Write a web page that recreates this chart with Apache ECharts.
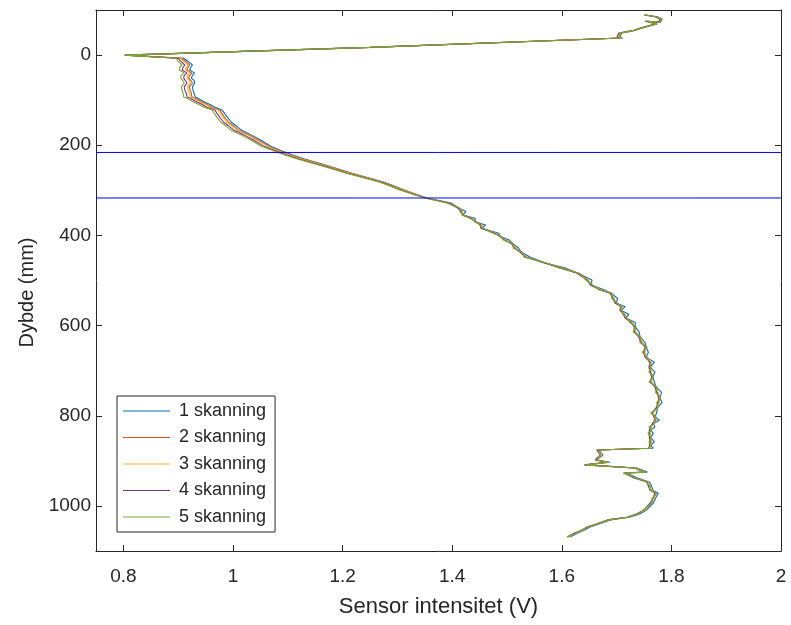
<!DOCTYPE html>
<html>
<head>
<meta charset="utf-8">
<script src="https://cdn.jsdelivr.net/npm/echarts@6/dist/echarts.min.js"></script>
<style>
html,body{margin:0;padding:0;background:#fff;}
#chart{width:791px;height:625px;}
</style>
</head>
<body>
<div id="chart"></div>
<script>
// Depth (mm), shared by all scans
var depth = [-89,-85,-80,-73,-75,-71,-69,-60,-55,-51,
-49,-40,-38,-34,-17,0,7,13,22,27,
33,40,45,51,56,62,70,78,85,93,
95,104,110,115,122,130,138,149,158,166,
177,189,202,211,222,231,240,251,262,272,
282,290,299,308,317,328,339,347,355,362,
370,377,384,395,402,410,419,428,438,448,
461,472,484,499,510,521,528,540,550,558,
566,575,583,593,603,614,626,637,648,659,
670,681,692,703,714,725,736,748,761,771,
781,794,802,810,818,825,832,839,848,858,
866,872,876,887,898,903,909,916,925,927,
938,947,956,965,972,983,994,1009,1018,1025,
1031,1040,1047,1055,1060,1069];

var scan1 = [1.754,1.774,1.783,1.780,1.756,1.769,1.774,1.747,1.735,1.718,
1.709,1.706,1.711,1.708,1.252,0.804,0.910,0.917,0.926,0.923,
0.921,0.930,0.926,0.924,0.929,0.930,0.926,0.927,0.929,0.931,
0.935,0.948,0.959,0.966,0.980,0.985,0.990,0.997,1.007,1.015,
1.033,1.051,1.069,1.086,1.110,1.132,1.158,1.188,1.217,1.247,
1.276,1.293,1.311,1.333,1.354,1.398,1.412,1.425,1.419,1.442,
1.442,1.461,1.454,1.485,1.487,1.504,1.511,1.521,1.527,1.542,
1.570,1.605,1.630,1.655,1.654,1.678,1.690,1.702,1.699,1.716,
1.708,1.722,1.717,1.734,1.734,1.741,1.743,1.752,1.754,1.758,
1.754,1.769,1.761,1.770,1.766,1.769,1.772,1.782,1.779,1.783,
1.775,1.773,1.770,1.778,1.767,1.770,1.762,1.767,1.762,1.769,
1.762,1.767,1.667,1.675,1.664,1.688,1.644,1.737,1.756,1.718,
1.738,1.760,1.764,1.766,1.776,1.771,1.767,1.755,1.742,1.724,
1.689,1.668,1.652,1.639,1.629,1.615];

var scan2 = [1.753,1.773,1.782,1.779,1.755,1.768,1.773,1.746,1.734,1.717,
1.708,1.705,1.710,1.707,1.251,0.803,0.906,0.913,0.921,0.918,
0.916,0.925,0.921,0.919,0.923,0.926,0.920,0.922,0.924,0.925,
0.930,0.943,0.954,0.961,0.976,0.980,0.985,0.992,1.002,1.010,
1.029,1.047,1.065,1.083,1.106,1.129,1.155,1.186,1.215,1.245,
1.274,1.291,1.310,1.332,1.353,1.395,1.413,1.417,1.421,1.435,
1.444,1.453,1.455,1.478,1.489,1.496,1.512,1.514,1.528,1.534,
1.571,1.598,1.631,1.647,1.655,1.671,1.691,1.694,1.700,1.709,
1.709,1.714,1.718,1.727,1.735,1.733,1.744,1.745,1.755,1.750,
1.755,1.762,1.762,1.762,1.767,1.762,1.773,1.774,1.780,1.776,
1.776,1.765,1.771,1.771,1.768,1.762,1.763,1.760,1.763,1.762,
1.763,1.760,1.667,1.671,1.664,1.684,1.644,1.733,1.753,1.714,
1.735,1.756,1.761,1.762,1.773,1.767,1.764,1.751,1.739,1.720,
1.686,1.664,1.649,1.635,1.626,1.611];

var scan3 = [1.752,1.771,1.780,1.777,1.753,1.766,1.771,1.745,1.733,1.716,
1.707,1.704,1.709,1.706,1.250,0.803,0.904,0.909,0.918,0.915,
0.913,0.922,0.917,0.916,0.920,0.922,0.917,0.918,0.921,0.922,
0.927,0.940,0.951,0.958,0.973,0.977,0.982,0.989,0.999,1.007,
1.026,1.044,1.062,1.080,1.104,1.127,1.153,1.184,1.213,1.244,
1.273,1.290,1.309,1.331,1.353,1.394,1.411,1.419,1.418,1.437,
1.441,1.455,1.453,1.480,1.486,1.498,1.510,1.516,1.526,1.536,
1.569,1.600,1.629,1.649,1.653,1.673,1.689,1.696,1.698,1.711,
1.707,1.716,1.716,1.729,1.733,1.735,1.742,1.747,1.753,1.752,
1.753,1.764,1.760,1.764,1.765,1.764,1.771,1.776,1.778,1.778,
1.774,1.767,1.769,1.773,1.766,1.764,1.761,1.762,1.761,1.764,
1.761,1.762,1.665,1.673,1.662,1.686,1.642,1.735,1.751,1.716,
1.733,1.758,1.759,1.764,1.771,1.769,1.762,1.753,1.737,1.722,
1.684,1.666,1.647,1.637,1.624,1.613];

var scan4 = [1.750,1.770,1.779,1.776,1.752,1.765,1.770,1.743,1.731,1.713,
1.704,1.701,1.707,1.704,1.249,0.802,0.900,0.904,0.912,0.909,
0.907,0.916,0.911,0.910,0.913,0.916,0.911,0.912,0.915,0.916,
0.921,0.934,0.945,0.951,0.967,0.971,0.976,0.983,0.993,1.001,
1.020,1.038,1.056,1.075,1.099,1.122,1.148,1.180,1.209,1.240,
1.270,1.287,1.306,1.328,1.351,1.393,1.410,1.416,1.419,1.434,
1.442,1.452,1.452,1.477,1.487,1.495,1.509,1.513,1.525,1.533,
1.568,1.597,1.628,1.646,1.652,1.670,1.688,1.693,1.697,1.708,
1.706,1.713,1.715,1.726,1.732,1.732,1.741,1.744,1.752,1.749,
1.752,1.761,1.759,1.761,1.764,1.761,1.770,1.773,1.777,1.775,
1.773,1.764,1.768,1.770,1.765,1.761,1.760,1.759,1.760,1.761,
1.760,1.759,1.664,1.670,1.661,1.683,1.641,1.732,1.750,1.713,
1.732,1.755,1.758,1.761,1.770,1.766,1.761,1.750,1.736,1.719,
1.683,1.663,1.646,1.634,1.623,1.610];

var scan5 = [1.751,1.772,1.781,1.778,1.754,1.767,1.772,1.744,1.732,1.715,
1.706,1.703,1.708,1.705,1.248,0.802,0.897,0.899,0.907,0.903,
0.902,0.911,0.905,0.905,0.908,0.911,0.906,0.907,0.909,0.910,
0.915,0.928,0.939,0.946,0.962,0.966,0.971,0.978,0.988,0.996,
1.015,1.033,1.052,1.071,1.096,1.119,1.145,1.177,1.207,1.238,
1.268,1.285,1.305,1.327,1.350,1.390,1.414,1.414,1.420,1.432,
1.444,1.450,1.455,1.475,1.489,1.493,1.512,1.511,1.529,1.531,
1.572,1.595,1.632,1.644,1.656,1.668,1.692,1.691,1.701,1.706,
1.710,1.711,1.719,1.724,1.736,1.730,1.745,1.742,1.756,1.747,
1.756,1.759,1.763,1.759,1.768,1.759,1.774,1.771,1.781,1.773,
1.777,1.762,1.772,1.768,1.769,1.759,1.764,1.757,1.764,1.759,
1.764,1.757,1.667,1.670,1.664,1.683,1.644,1.731,1.753,1.712,
1.735,1.754,1.761,1.760,1.773,1.765,1.764,1.749,1.739,1.718,
1.686,1.662,1.649,1.633,1.626,1.609];

var seriesNames = ['1 skanning','2 skanning','3 skanning','4 skanning','5 skanning'];
var seriesColors = ['#0072BD','#D95319','#EDB120','#7E2F8E','#77AC30'];
var scans = [scan1, scan2, scan3, scan4, scan5];
var refDepths = [216, 317];
var xRange = [0.75, 2];
var yRange = [-100, 1100];
var xTicks = [0.8, 1, 1.2, 1.4, 1.6, 1.8, 2];
var yTicks = [0, 200, 400, 600, 800, 1000];

var axisColor = '#262626';
var fontFam = '"Liberation Sans", Arial, Helvetica, sans-serif';

var chart = echarts.init(document.getElementById('chart'), null, {renderer: 'canvas'});

var series = scans.map(function (s, k) {
  return {
    name: seriesNames[k],
    type: 'line',
    xAxisIndex: 0,
    yAxisIndex: 0,
    symbol: 'none',
    showSymbol: false,
    animation: false,
    lineStyle: {width: 1.1, color: seriesColors[k]},
    itemStyle: {color: seriesColors[k]},
    z: 2 + k,
    data: depth.map(function (d, i) { return [s[i], d]; })
  };
});
refDepths.forEach(function (d, j) {
  series.push({
    name: 'ref' + j,
    type: 'line',
    xAxisIndex: 0,
    yAxisIndex: 0,
    symbol: 'none',
    showSymbol: false,
    animation: false,
    silent: true,
    lineStyle: {width: 1, color: '#0000FF'},
    itemStyle: {color: '#0000FF'},
    z: 10,
    data: [[xRange[0], d], [xRange[1], d]]
  });
});

function xAx(pos, showLabel) {
  return {
    type: 'value', position: pos, min: xRange[0], max: xRange[1],
    name: showLabel ? 'Sensor intensitet (V)' : '',
    nameLocation: 'middle', nameGap: 45,
    nameTextStyle: {color: axisColor, fontSize: 22, fontFamily: fontFam},
    axisLine: {show: true, onZero: false, lineStyle: {color: axisColor, width: 1}},
    axisTick: {show: true, inside: true, length: 6, customValues: xTicks, lineStyle: {color: axisColor, width: 1}},
    axisLabel: {show: showLabel, customValues: xTicks, color: axisColor, fontSize: 19, fontFamily: fontFam, margin: 16,
      formatter: function (v) { return String(+v.toFixed(2)); }},
    splitLine: {show: false}
  };
}
function yAx(pos, showLabel) {
  return {
    type: 'value', position: pos, min: yRange[0], max: yRange[1], inverse: true,
    name: showLabel ? 'Dybde (mm)' : '',
    nameLocation: 'middle', nameGap: 54, nameRotate: 90,
    nameTextStyle: {color: axisColor, fontSize: 20, fontFamily: fontFam, padding: [0, 24, 0, 0]},
    axisLine: {show: true, onZero: false, lineStyle: {color: axisColor, width: 1}},
    axisTick: {show: true, inside: true, length: 6, customValues: yTicks, lineStyle: {color: axisColor, width: 1}},
    axisLabel: {show: showLabel, customValues: yTicks, color: axisColor, fontSize: 19, fontFamily: fontFam, margin: 5,
      formatter: function (v) { return String(v); }},
    splitLine: {show: false}
  };
}

chart.setOption({
  backgroundColor: '#ffffff',
  animation: false,
  grid: {left: 96, right: 10, top: 10, bottom: 74, containLabel: false},
  xAxis: [xAx('bottom', true), xAx('top', false)],
  yAxis: [yAx('left', true), yAx('right', false)],
  legend: {
    show: true,
    orient: 'vertical',
    left: 117, top: 396,
    padding: [6, 9, 6, 6],
    backgroundColor: '#ffffff',
    borderColor: axisColor, borderWidth: 1,
    itemWidth: 47, itemHeight: 14, itemGap: 8.5,
    icon: 'path://M0,0L47,0L47,1.2L0,1.2Z',
    textStyle: {color: axisColor, fontSize: 18, fontFamily: fontFam, lineHeight: 18, padding: [0, 0, 0, 4]},
    data: seriesNames
  },
  series: series
});
</script>
</body>
</html>
